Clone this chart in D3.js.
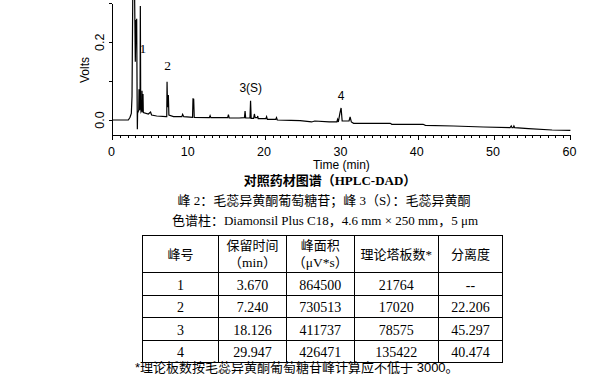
<!DOCTYPE html>
<html>
<head>
<meta charset="utf-8">
<script src="https://cdn.jsdelivr.net/npm/d3@7"></script>
<style>
  body { margin: 0; background: #fff; }
  svg { display: block; }
</style>
</head>
<body>
<div id="chart"></div>
<script>
// chromatogram trace (min, volts)
const traceTime = [0, 2.09, 2.31, 2.48, 2.57, 2.66, 2.72, 2.78, 2.84, 2.92, 3.0, 3.09, 3.14, 3.18, 3.24, 3.27, 3.3,
  3.45, 3.49, 3.53, 3.62, 3.66, 3.71, 3.75, 3.85, 3.88, 3.92, 3.98, 4.01, 4.05, 4.71, 5.0, 5.13, 5.8,
  7.03, 7.12, 7.16, 7.22, 7.27, 7.33, 7.4, 8.0, 9.1, 9.2, 9.35, 10.5, 10.56, 10.6, 10.65, 10.72,
  12.7, 12.8, 12.9, 15.1, 15.2, 15.3, 16.6, 17.3, 17.38, 17.46, 18.02, 18.1, 18.18, 18.5, 18.6, 18.7,
  19.0, 19.04, 19.1, 20.1, 20.2, 20.3, 21.4, 21.5, 21.6, 23.4, 24.6, 26.1, 26.5, 28.4, 29.4, 29.5,
  29.6, 29.8, 29.96, 30.1, 31.0, 31.14, 31.3, 31.6, 36.4, 36.6, 40.7, 41.0, 44.7, 48.6, 52.1, 52.25,
  52.35, 52.5, 52.6, 52.7, 54.5, 57.6, 60];
const traceVolts = [0, 0, 0.0069, 0.0171, 0.06, 0.3, 0.5, 0.36, 0.45, 0.3, 0.15, 0.257, 0.2, 0.26, 0.05, -0.024, 0.017,
  0.025, 0.0788, 0.0257, 0.03, 0.293, 0.03, 0.021, 0.025, 0.0754, 0.025, 0.02, 0.0668, 0.0189, 0.0154, 0.0206, 0.0129, 0.0103,
  0.0086, 0.0086, 0.0985, 0.0343, 0.0343, 0.0643, 0.0129, 0.0086, 0.0086, 0.0146, 0.0086, 0.0069, 0.0557, 0.0531, 0.0531, 0.0069,
  0.006, 0.0111, 0.006, 0.006, 0.0137, 0.0051, 0.0051, 0.006, 0.0231, 0.0051, 0.0051, 0.0497, 0.0043, 0.0043, 0.0154, 0.006,
  0.006, 0.0103, 0.0034, 0.0034, 0.0086, 0.0017, 0.0017, 0.006, 0, -0.0009, -0.0017, -0.0051, -0.0026, -0.0051, -0.0051, 0.0017,
  -0.0051, 0.0171, 0.031, -0.0026, -0.0026, 0.008, -0.0051, -0.0086, -0.0086, -0.0111, -0.0111, -0.0137, -0.0154, -0.018, -0.0197, -0.0154,
  -0.0197, -0.0197, -0.0154, -0.0197, -0.0223, -0.0257, -0.0266];

// peak annotations
const peakNames = ['1', '2', '3(S)', '4'];
const peakTimes = [3.670, 7.240, 18.126, 29.947];
const labelVolts = [0.185, 0.14, 0.083, 0.062];

// axis ticks
const xMajor = [0, 10, 20, 30, 40, 50, 60];
const xMinor = d3.range(0, 61, 1);
const yTicks = [0, 0.1, 0.2, 0.3];
const yLabels = [0, 0.2];

// captions
const title = '对照药材图谱（HPLC-DAD）';
const caption1 = '峰 2：毛蕊异黄酮葡萄糖苷；峰 3（S）：毛蕊异黄酮';
const caption2 = '色谱柱：Diamonsil Plus C18，4.6 mm × 250 mm，5 μm';

// table
const headers = [['峰号'], ['保留时间', '（min）'], ['峰面积', '（μV*s）'], ['理论塔板数*'], ['分离度']];
const peakNo = ['1', '2', '3', '4'];
const retTime = ['3.670', '7.240', '18.126', '29.947'];
const peakArea = ['864500', '730513', '411737', '426471'];
const plates = ['21764', '17020', '78575', '135422'];
const resolution = ['--', '22.206', '45.297', '40.474'];
const footnote = '*理论板数按毛蕊异黄酮葡萄糖苷峰计算应不低于 3000。';

const width = 611;
const height = 378;

const svg = d3.select('#chart').append('svg')
  .attr('width', width)
  .attr('height', height)
  .style('background', '#fff');

const x = d3.scaleLinear().domain([0, 60]).range([112.4, 570.4]);
const y = d3.scaleLinear().domain([-0.0386, 0.3]).range([135, 3.3]);

const sans = 'Arial, "Liberation Sans", sans-serif';
const serifCjk = '"Liberation Serif", "Times New Roman", "Noto Sans CJK SC", serif';

// trace
svg.append('clipPath').attr('id', 'plotclip')
  .append('rect').attr('x', 112).attr('y', 0).attr('width', 460).attr('height', 136);

const line = d3.line()
  .x((d, i) => x(traceTime[i]))
  .y(d => y(d));

svg.append('path')
  .attr('clip-path', 'url(#plotclip)')
  .attr('d', line(traceVolts))
  .attr('fill', 'none')
  .attr('stroke', '#000')
  .attr('stroke-width', 1.2)
  .attr('stroke-linejoin', 'miter');

// x axis
const xAxis = svg.append('g').attr('transform', 'translate(0,135)');
xAxis.call(d3.axisBottom(x).tickValues(xMinor).tickSize(3).tickSizeOuter(0).tickFormat(''));
xAxis.call(g => g.selectAll('.tick').filter(d => xMajor.includes(d)).select('line').attr('y2', 4.5));
xAxis.selectAll('path, line').attr('stroke', '#000').attr('shape-rendering', 'crispEdges');

svg.append('g').selectAll('text')
  .data(xMajor)
  .join('text')
  .attr('x', d => x(d) - 1)
  .attr('y', 156)
  .attr('text-anchor', 'middle')
  .attr('font-family', sans)
  .attr('font-size', 12.5)
  .text(d => d);

svg.append('text')
  .attr('x', x(30))
  .attr('y', 168.5)
  .attr('text-anchor', 'middle')
  .attr('font-family', sans)
  .attr('font-size', 12)
  .text('Time (min)');

// y axis
const yAxis = svg.append('g').attr('transform', 'translate(112.4,0)');
yAxis.call(d3.axisLeft(y).tickValues(yTicks).tickSize(3).tickSizeOuter(0).tickFormat(''));
yAxis.selectAll('path, line').attr('stroke', '#000').attr('shape-rendering', 'crispEdges');

svg.append('g').selectAll('text')
  .data(yLabels)
  .join('text')
  .attr('transform', d => `translate(103.5,${y(d)}) rotate(-90)`)
  .attr('text-anchor', 'middle')
  .attr('font-family', sans)
  .attr('font-size', 12.5)
  .text(d => d3.format('.1f')(d));

svg.append('text')
  .attr('transform', 'translate(88.5,70) rotate(-90)')
  .attr('text-anchor', 'middle')
  .attr('font-family', sans)
  .attr('font-size', 12)
  .text('Volts');

// peak labels
svg.append('g').selectAll('text')
  .data(peakNames)
  .join('text')
  .attr('x', (d, i) => x(peakTimes[i]) + (i === 0 ? 2.5 : 0))
  .attr('y', (d, i) => y(labelVolts[i]) + 4.5)
  .attr('text-anchor', 'middle')
  .attr('font-family', (d, i) => (i < 2 ? '"Liberation Serif", serif' : sans))
  .attr('font-size', (d, i) => (i < 2 ? 13.5 : 12))
  .text(d => d);

// captions
svg.append('text')
  .attr('x', 330).attr('y', 184.5)
  .attr('text-anchor', 'middle')
  .attr('font-family', serifCjk)
  .attr('font-weight', 'bold')
  .attr('font-size', 13)
  .text(title);

svg.append('text')
  .attr('x', 324).attr('y', 204.5)
  .attr('text-anchor', 'middle')
  .attr('font-family', serifCjk)
  .attr('font-size', 13)
  .text(caption1);

svg.append('text')
  .attr('x', 325).attr('y', 224.5)
  .attr('text-anchor', 'middle')
  .attr('font-family', serifCjk)
  .attr('font-size', 13)
  .text(caption2);

// table
const colEdges = [142.7, 218.3, 286.7, 354, 438.3, 502.7];
const rowEdges = [235, 272.3, 295, 317.3, 340, 362.3];
const table = svg.append('g');

table.selectAll('line.h')
  .data(rowEdges)
  .join('line')
  .attr('x1', colEdges[0]).attr('x2', colEdges[colEdges.length - 1])
  .attr('y1', d => d).attr('y2', d => d)
  .attr('stroke', '#000').attr('shape-rendering', 'crispEdges');

table.selectAll('line.v')
  .data(colEdges)
  .join('line')
  .attr('y1', rowEdges[0]).attr('y2', rowEdges[rowEdges.length - 1])
  .attr('x1', d => d).attr('x2', d => d)
  .attr('stroke', '#000').attr('shape-rendering', 'crispEdges');

const colCenter = i => (colEdges[i] + colEdges[i + 1]) / 2;

headers.forEach((lines, i) => {
  const t = table.append('text')
    .attr('text-anchor', 'middle')
    .attr('font-family', serifCjk)
    .attr('font-size', 13);
  if (lines.length === 1) {
    t.attr('x', colCenter(i)).attr('y', 258.5).text(lines[0]);
  } else {
    t.append('tspan').attr('x', colCenter(i)).attr('y', 249.5).text(lines[0]);
    t.append('tspan').attr('x', colCenter(i)).attr('y', 266.5).attr('font-size', 13.5).text(lines[1]);
  }
});

const columns = [peakNo, retTime, peakArea, plates, resolution];
columns.forEach((col, ci) => {
  table.append('g').selectAll('text')
    .data(col)
    .join('text')
    .attr('x', colCenter(ci))
    .attr('y', (d, ri) => rowEdges[ri + 1] + 17.4)
    .attr('text-anchor', 'middle')
    .attr('font-family', '"Liberation Serif", "Times New Roman", serif')
    .attr('font-size', 14)
    .text(d => d);
});

svg.append('text')
  .attr('x', 135).attr('y', 372)
  .attr('font-family', 'Arial, "Liberation Sans", "Noto Sans CJK SC", sans-serif')
  .attr('font-size', 13)
  .text(footnote);
</script>
</body>
</html>
